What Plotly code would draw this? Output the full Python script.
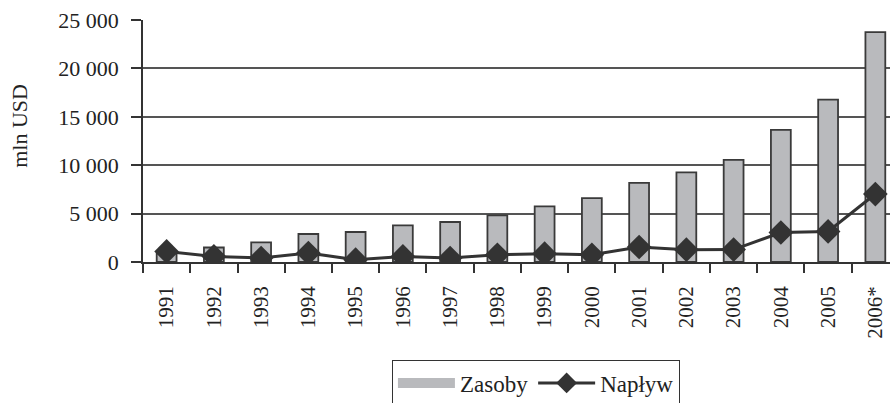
import plotly.graph_objects as go

years = ["1991", "1992", "1993", "1994", "1995", "1996", "1997", "1998",
         "1999", "2000", "2001", "2002", "2003", "2004", "2005", "2006*"]
zasoby = [900, 1500, 2020, 2890, 3100, 3780, 4130, 4810,
          5740, 6600, 8180, 9250, 10560, 13650, 16780, 23740]
naplyw = [1090, 580, 410, 930, 240, 580, 410, 750,
          860, 750, 1550, 1270, 1280, 3050, 3160, 7020]
ytick_vals = [0, 5000, 10000, 15000, 20000, 25000]
ytick_text = ["0", "5 000", "10 000", "15 000", "20 000", "25 000"]

FONT = "Times New Roman"
DARK = "#333333"
TXT = "#222222"
BARC = "#b9babd"
XRANGE = [-0.5, 15.31]

fig = go.Figure()
fig.add_trace(go.Bar(
    x=years, y=zasoby, name="Zasoby", width=0.42, showlegend=False,
    marker=dict(color=BARC, line=dict(color="#3a3a3a", width=1.8)),
))
# legend-only entry giving the wide grey swatch
fig.add_trace(go.Scatter(
    x=[None], y=[None], name="Zasoby", mode="lines",
    line=dict(color=BARC, width=17),
))
fig.add_trace(go.Scatter(
    x=years, y=naplyw, name="Napływ", mode="lines+markers",
    line=dict(color=DARK, width=3),
    marker=dict(symbol="diamond", size=19, color=DARK),
))

fig.update_layout(
    width=890, height=403,
    margin=dict(l=143, r=0, t=20, b=141, autoexpand=False),
    paper_bgcolor="white", plot_bgcolor="white",
    font=dict(family=FONT, size=21, color=TXT),
    showlegend=True,
    legend=dict(
        orientation="h", x=0.526, xanchor="center", y=-0.407, yanchor="top",
        bordercolor=DARK, borderwidth=1, font=dict(size=23),
        traceorder="normal", itemwidth=57,
    ),
    annotations=[dict(
        text="mln USD", textangle=-90, xref="paper", yref="paper",
        x=-0.165, y=0.562, xanchor="center", yanchor="middle",
        showarrow=False, font=dict(size=22, color=TXT),
    )],
    xaxis=dict(
        type="category", range=XRANGE, automargin=False,
        showline=True, linecolor=DARK, linewidth=1.5,
        ticks="outside", tickson="boundaries", ticklen=9, tickcolor=DARK, tickwidth=1.5,
        tickangle=-90, showgrid=False, ticklabelstandoff=14,
        tickfont=dict(size=21),
    ),
    xaxis2=dict(
        overlaying="x", anchor="y", side="bottom", range=XRANGE,
        tickmode="linear", tick0=-0.5, dtick=1,
        ticks="inside", ticklen=7, tickcolor=DARK, tickwidth=1.5,
        showticklabels=False, showgrid=False, showline=False, zeroline=False,
    ),
    yaxis=dict(
        range=[0, 25000], tickvals=ytick_vals, ticktext=ytick_text, automargin=False,
        showline=True, linecolor=DARK, linewidth=1.5,
        ticks="outside", ticklen=10, tickcolor=DARK, tickwidth=1.5,
        showgrid=True, gridcolor="#555555", gridwidth=1.5, zeroline=False,
        ticklabelstandoff=8, tickfont=dict(size=22),
    ),
)

post = """
document.body.style.margin = '0';
var gd = document.getElementById('{plot_id}');
Plotly.redraw(gd);
setTimeout(function () { Plotly.redraw(gd); }, 150);
"""
fig.write_html("out.html", post_script=post, config={"displayModeBar": False})
